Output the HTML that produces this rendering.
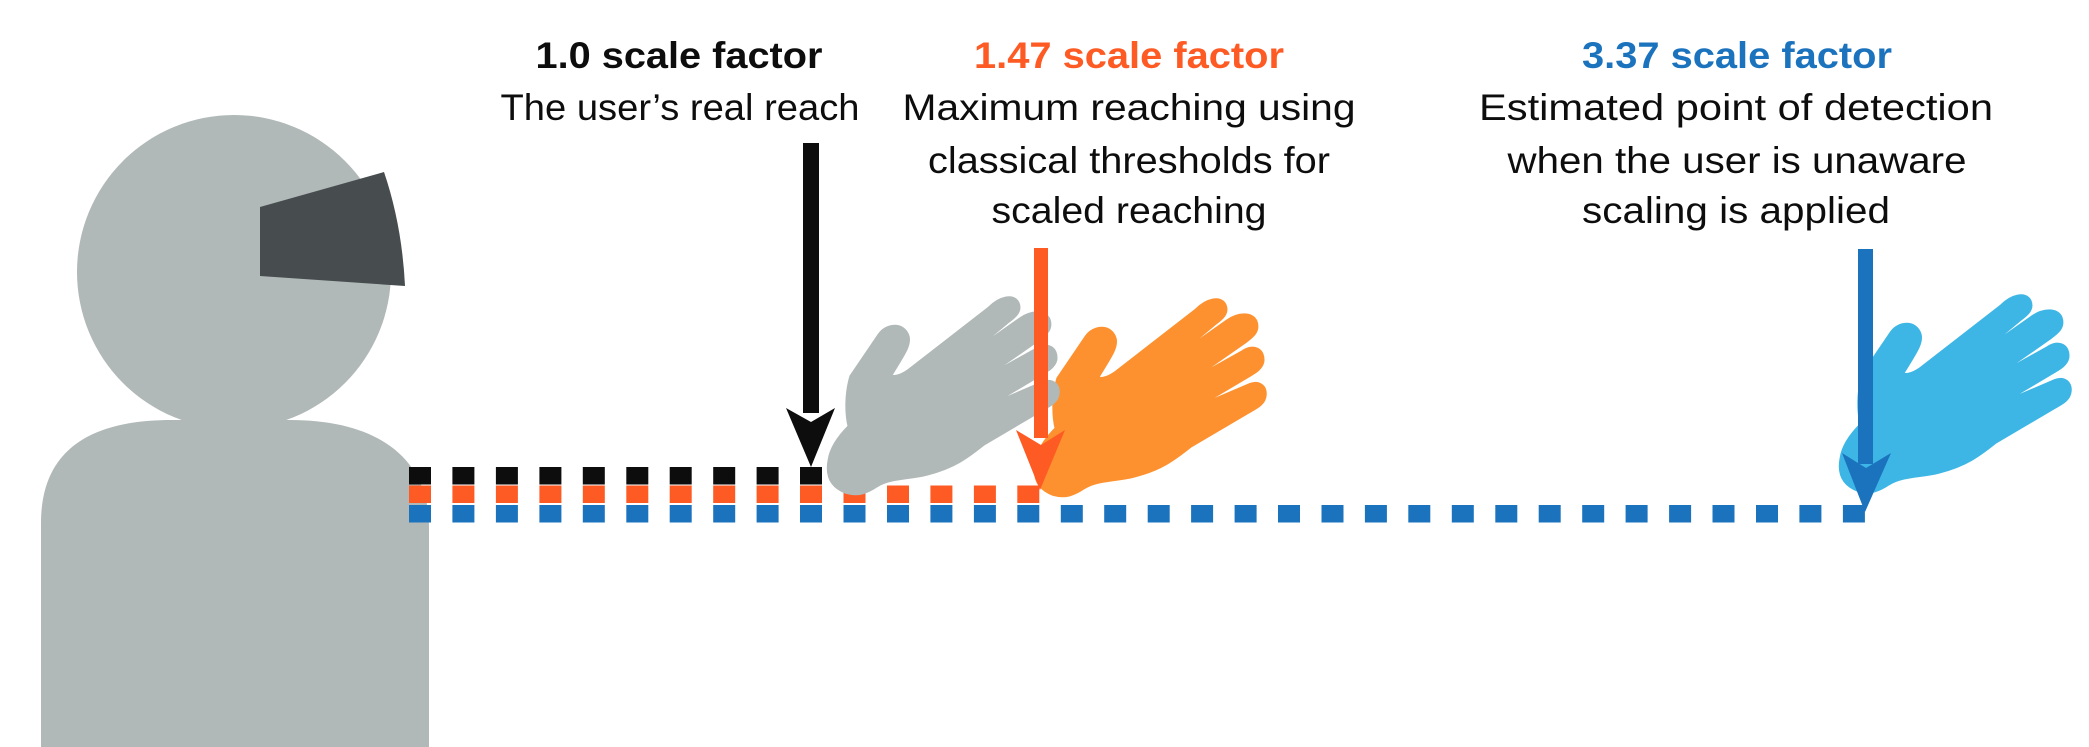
<!DOCTYPE html>
<html><head><meta charset="utf-8"><style>html,body{margin:0;padding:0;background:#fff}svg{display:block}</style></head>
<body>
<svg width="2089" height="747" viewBox="0 0 2089 747" xmlns="http://www.w3.org/2000/svg">
<defs>
<path id="hand" stroke-width="14" stroke-linejoin="round" d="M200 635 C160 620 140 590 150 540 C155 505 180 470 210 440 C200 400 200 340 215 290 L300 165 C320 135 370 130 382 170 C388 195 370 220 330 285 C335 298 360 292 385 275 L630 85 C660 55 700 45 712 70 C722 95 700 110 680 125 L500 275 L720 120 C755 95 795 95 805 120 C815 150 790 165 770 180 L555 330 L770 210 C800 190 830 205 825 240 C820 260 800 270 780 282 L590 395 L790 310 C815 300 835 315 832 340 C830 365 805 375 780 390 L610 490 C560 530 520 560 440 580 C380 595 330 590 290 615 C260 635 235 645 200 635 Z"/>
</defs>
<path d="M41 747 L41 523 C41 450 90 420 172 420 L290 420 C380 420 429 460 429 527 L429 747 Z" fill="#b0b9b7"/>
<circle cx="234" cy="272" r="157" fill="#b0b9b7"/>
<path d="M260 207 L384 172 Q402 225 405 286 L260 276 Z" fill="#474c4e"/>
<g id="dashes"></g>
<g transform="translate(987,282) scale(0.3333)" fill="#fe912f" stroke="#fe912f"><use href="#hand"/></g>
<g transform="translate(780,280) scale(0.3333)" fill="#b0b9b7" stroke="#b0b9b7"><use href="#hand"/></g>
<g transform="translate(1792,278) scale(0.3333)" fill="#3db6e6" stroke="#3db6e6"><use href="#hand"/></g>
<rect x="803" y="143" width="16" height="270" fill="#0d0d0d"/>
<path d="M786 408 L811 422 L835 408 L811 467 Z" fill="#0d0d0d"/>
<rect x="1034" y="248" width="14" height="190" fill="#fe5a24"/>
<path d="M1016 430 L1041 445 L1065 430 L1040 490 Z" fill="#fe5a24"/>
<rect x="1858" y="249" width="15" height="215" fill="#1b73be"/>
<path d="M1842 453 L1866 468 L1891 453 L1865 512 Z" fill="#1b73be"/>
<g font-family="Liberation Sans, sans-serif" text-anchor="middle" font-size="37">
  <text x="679" y="68" font-weight="bold" fill="#0d0d0d" textLength="287" lengthAdjust="spacingAndGlyphs">1.0 scale factor</text>
  <text x="680" y="120" fill="#0d0d0d" textLength="359" lengthAdjust="spacingAndGlyphs">The user’s real reach</text>
  <text x="1129" y="68" font-weight="bold" fill="#fe5a24" textLength="310" lengthAdjust="spacingAndGlyphs">1.47 scale factor</text>
  <text x="1129" y="120" fill="#0d0d0d" textLength="453" lengthAdjust="spacingAndGlyphs">Maximum reaching using</text>
  <text x="1129" y="173" fill="#0d0d0d" textLength="402" lengthAdjust="spacingAndGlyphs">classical thresholds for</text>
  <text x="1129" y="223" fill="#0d0d0d" textLength="275" lengthAdjust="spacingAndGlyphs">scaled reaching</text>
  <text x="1737" y="68" font-weight="bold" fill="#1b73be" textLength="310" lengthAdjust="spacingAndGlyphs">3.37 scale factor</text>
  <text x="1736" y="120" fill="#0d0d0d" textLength="514" lengthAdjust="spacingAndGlyphs">Estimated point of detection</text>
  <text x="1737" y="173" fill="#0d0d0d" textLength="459" lengthAdjust="spacingAndGlyphs">when the user is unaware</text>
  <text x="1736" y="223" fill="#0d0d0d" textLength="308" lengthAdjust="spacingAndGlyphs">scaling is applied</text>
</g>
</svg>
<script>
(function(){
var g=document.getElementById('dashes'),ns='http://www.w3.org/2000/svg';
function row(n,y,c){for(var i=0;i<n;i++){var r=document.createElementNS(ns,'rect');r.setAttribute('x',(409+i*43.45).toFixed(1));r.setAttribute('y',y);r.setAttribute('width',22);r.setAttribute('height',17.5);r.setAttribute('fill',c);g.appendChild(r);}}
row(10,467,'#0d0d0d');row(15,485.5,'#fe5a24');row(34,505,'#1b73be');
})();
</script>
</body></html>
